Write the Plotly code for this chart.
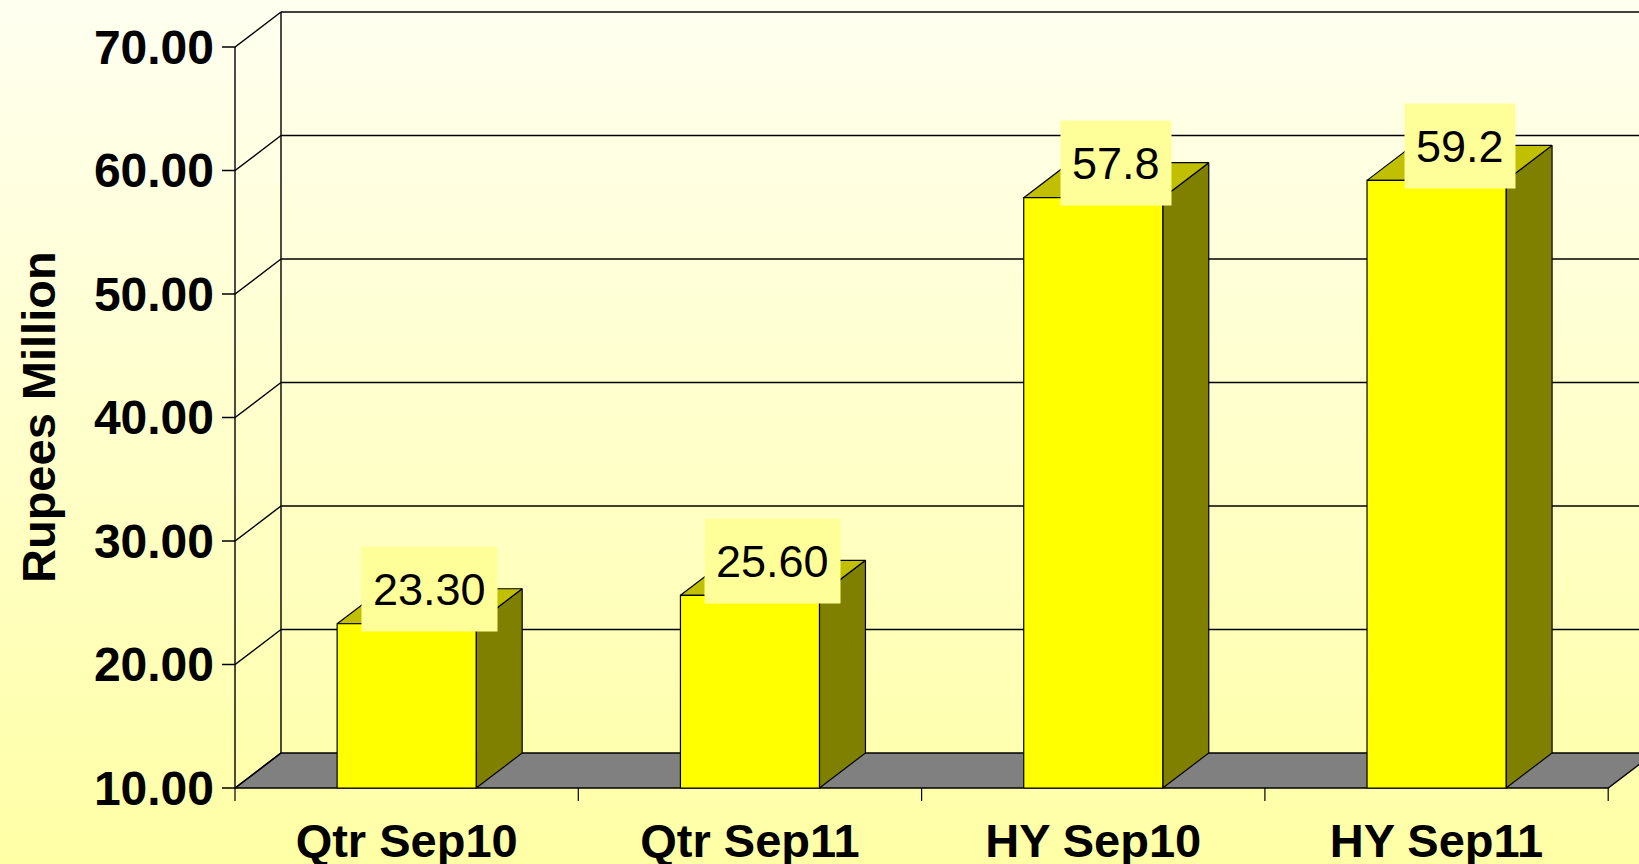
import plotly.graph_objects as go

# ---------------- data ----------------
categories = ["Qtr Sep10", "Qtr Sep11", "HY Sep10", "HY Sep11"]
values = [23.30, 25.60, 57.8, 59.2]
value_labels = ["23.30", "25.60", "57.8", "59.2"]
y_ticks = [10, 20, 30, 40, 50, 60, 70]
y_tick_labels = ["10.00", "20.00", "30.00", "40.00", "50.00", "60.00", "70.00"]
y_title = "Rupees Million"

# ---------------- geometry / style ----------------
W, H = 1639, 864
CAT_PX = 343.3          # pixels per category
Y_PX = 12.35            # pixels per y unit
AXIS_X_PX = 235         # pixel of front y axis
BASE_Y_PX = 788         # pixel of y = 10 front baseline
PLOT_LEFT, PLOT_RIGHT, PLOT_TOP, PLOT_BOTTOM = 215, 1639, 5, 804
DX_PX, DY_PX = 46, 35   # 3D depth
BAR_W = 0.405
TICK_PX = 13
FONT = "Arial, Liberation Sans, Helvetica, sans-serif"

ymin_val = y_ticks[0]
n = len(categories)
x0 = -0.5 - (AXIS_X_PX - PLOT_LEFT) / CAT_PX
x1 = x0 + (PLOT_RIGHT - PLOT_LEFT) / CAT_PX
y0 = ymin_val - (PLOT_BOTTOM - BASE_Y_PX) / Y_PX
y1 = y0 + (PLOT_BOTTOM - PLOT_TOP) / Y_PX
ddx = DX_PX / CAT_PX
ddy = DY_PX / Y_PX
left = -0.5
right = n - 0.5


def px_paper_x(px):
    return (px - PLOT_LEFT) / (PLOT_RIGHT - PLOT_LEFT)


def px_paper_y(py):
    return (PLOT_BOTTOM - py) / (PLOT_BOTTOM - PLOT_TOP)


fig = go.Figure()

# background gradient strips
shapes = []
NSTRIP = 108
for k in range(NSTRIP):
    t = k / (NSTRIP - 1)
    b = int(round(240 - (240 - 166) * t))
    ya = k * H / NSTRIP
    yb = (k + 1) * H / NSTRIP + 1
    shapes.append(dict(type="rect", xref="paper", yref="paper", layer="below",
                       x0=px_paper_x(-2), x1=px_paper_x(W + 2),
                       y0=px_paper_y(yb + (4 if k == NSTRIP - 1 else 0)), y1=px_paper_y(ya - 1),
                       fillcolor=f"rgb(255,255,{b})", line=dict(width=0)))

LINE = dict(color="black", width=1.4)

# floor
fig.add_trace(go.Scatter(
    x=[left, right, right + ddx, left + ddx, left],
    y=[ymin_val, ymin_val, ymin_val + ddy, ymin_val + ddy, ymin_val],
    mode="lines", fill="toself", fillcolor="#808080", line=LINE, hoverinfo="skip"))

# left side wall diagonals + y tick marks
xs, ys = [], []
for v in y_ticks:
    xs += [left - TICK_PX / CAT_PX, left, left + ddx, None]
    ys += [v, v, v + ddy, None]
fig.add_trace(go.Scatter(x=xs, y=ys, mode="lines", line=LINE, hoverinfo="skip"))

# back wall gridlines
xs, ys = [], []
for v in y_ticks[1:]:
    xs += [left + ddx, right + ddx, None]
    ys += [v + ddy, v + ddy, None]
fig.add_trace(go.Scatter(x=xs, y=ys, mode="lines", line=LINE, hoverinfo="skip"))

# back wall left vertical and front y axis line
fig.add_trace(go.Scatter(
    x=[left + ddx, left + ddx, None, left, left],
    y=[ymin_val + ddy, y_ticks[-1] + ddy, None, ymin_val, y_ticks[-1]],
    mode="lines", line=LINE, hoverinfo="skip"))

# x boundary tick marks
xs, ys = [], []
for k in range(n + 1):
    b = k - 0.5
    xs += [b, b, None]
    ys += [ymin_val, ymin_val - TICK_PX / Y_PX, None]
fig.add_trace(go.Scatter(x=xs, y=ys, mode="lines", line=dict(color="black", width=1.2),
                         hoverinfo="skip"))

# bars
BAR_LINE = dict(color="black", width=1.2)
side_x, side_y, top_x, top_y, front_x, front_y = [], [], [], [], [], []
for i, v in enumerate(values):
    l, r = i - BAR_W / 2, i + BAR_W / 2
    front_x += [l, r, r, l, l, None]
    front_y += [ymin_val, ymin_val, v, v, ymin_val, None]
    side_x += [r, r + ddx, r + ddx, r, r, None]
    side_y += [ymin_val, ymin_val + ddy, v + ddy, v, ymin_val, None]
    top_x += [l, r, r + ddx, l + ddx, l, None]
    top_y += [v, v, v + ddy, v + ddy, v, None]
fig.add_trace(go.Scatter(x=side_x, y=side_y, mode="lines", fill="toself",
                         fillcolor="#808000", line=BAR_LINE, hoverinfo="skip"))
fig.add_trace(go.Scatter(x=top_x, y=top_y, mode="lines", fill="toself",
                         fillcolor="#C0C000", line=BAR_LINE, hoverinfo="skip"))
fig.add_trace(go.Scatter(x=front_x, y=front_y, mode="lines", fill="toself",
                         fillcolor="#FFFF00", line=BAR_LINE, hoverinfo="skip"))

annotations = []
for i, (v, lab) in enumerate(zip(values, value_labels)):
    annotations.append(dict(x=i, y=v, xref="x", yref="y", text=lab, showarrow=False,
                            xshift=DX_PX / 2, yshift=34.5, xanchor="center", yanchor="middle",
                            bgcolor="#FFFF99", borderpad=11, height=62, valign="middle",
                            font=dict(family=FONT, size=45, color="black")))
annotations.append(dict(x=px_paper_x(38), y=px_paper_y(417), xref="paper", yref="paper",
                        text=f"<b>{y_title}</b>", textangle=-90, showarrow=False,
                        xanchor="center", yanchor="middle",
                        font=dict(family=FONT, size=47, color="black")))

fig.update_layout(
    width=W, height=H,
    margin=dict(l=PLOT_LEFT, r=W - PLOT_RIGHT, t=PLOT_TOP, b=H - PLOT_BOTTOM, pad=0,
                autoexpand=False),
    paper_bgcolor="#FFFFD0", plot_bgcolor="rgba(0,0,0,0)",
    showlegend=False, shapes=shapes, annotations=annotations,
    xaxis=dict(range=[x0, x1], tickvals=list(range(n)), ticktext=categories,
               showgrid=False, zeroline=False, showline=False, ticks="", automargin=False,
               tickfont=dict(family=FONT, size=47, color="black", weight="bold"),
               ticklabelstandoff=5, fixedrange=True),
    yaxis=dict(range=[y0, y1], tickvals=y_ticks, ticktext=y_tick_labels,
               showgrid=False, zeroline=False, showline=False, ticks="", automargin=False,
               tickfont=dict(family=FONT, size=48, color="black", weight="bold"),
               ticklabelstandoff=0, fixedrange=True),
)

fig.write_html("out.html", config={"displayModeBar": False},
               post_script="document.body.style.margin='0';document.body.style.overflow='hidden';")
